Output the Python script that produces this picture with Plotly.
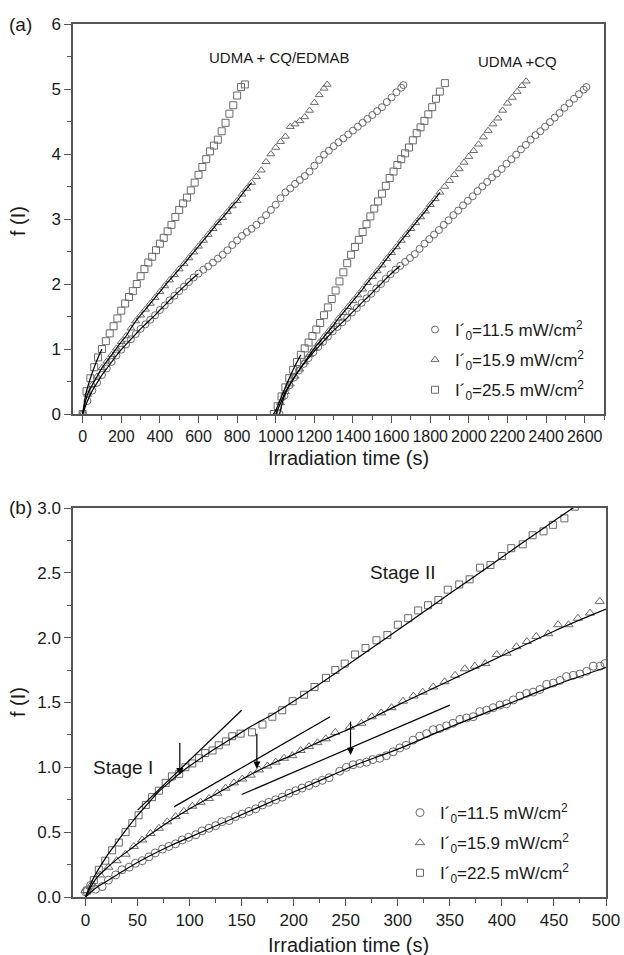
import plotly.graph_objects as go

# ---------------- Panel (a) data: UDMA + CQ/EDMAB ----------------
ed_sq_t = [0, 20, 40, 60, 80, 100, 120, 140, 160, 180, 200, 220, 240, 260, 280, 300, 320, 340, 360, 380,
           400, 420, 440, 460, 480, 500, 520, 540, 560, 580, 600, 620, 640, 660, 680, 700, 720, 740, 760,
           780, 800, 820, 840]
ed_sq_f = [0.0, 0.35, 0.55, 0.72, 0.87, 1.00, 1.12, 1.24, 1.35, 1.47, 1.59, 1.70, 1.80, 1.89, 2.00, 2.12,
           2.23, 2.33, 2.42, 2.52, 2.62, 2.71, 2.81, 2.91, 3.03, 3.14, 3.24, 3.33, 3.44, 3.56, 3.68, 3.80,
           3.92, 4.04, 4.13, 4.22, 4.35, 4.48, 4.62, 4.75, 4.90, 5.03, 5.07]

ed_tr_t = [0, 25, 50, 75, 100, 125, 150, 175, 200, 225, 250, 275, 300, 325, 350, 375, 400, 425, 450, 475,
           500, 525, 550, 575, 600, 625, 650, 675, 700, 725, 750, 775, 800, 825, 850, 875, 900, 925, 950,
           975, 1000, 1025, 1050, 1075, 1100, 1125, 1150, 1175, 1200, 1225, 1250, 1266]
ed_tr_f = [0.0, 0.30, 0.45, 0.58, 0.71, 0.81, 0.91, 1.01, 1.11, 1.20, 1.32, 1.43, 1.52, 1.61, 1.70, 1.79,
           1.88, 1.97, 2.06, 2.14, 2.23, 2.31, 2.40, 2.49, 2.58, 2.67, 2.76, 2.85, 2.94, 3.02, 3.11, 3.20,
           3.28, 3.38, 3.47, 3.56, 3.65, 3.75, 3.88, 4.00, 4.10, 4.19, 4.27, 4.42, 4.46, 4.51, 4.57, 4.67,
           4.79, 4.91, 5.01, 5.07]

ed_ci_t = [0, 25, 50, 75, 100, 125, 150, 175, 200, 225, 250, 275, 300, 325, 350, 375, 400, 425, 450, 475,
           500, 525, 550, 575, 600, 625, 650, 675, 700, 725, 750, 775, 800, 825, 850, 875, 900, 925, 950,
           975, 1000, 1025, 1050, 1075, 1100, 1125, 1150, 1175, 1200, 1225, 1250, 1275, 1300, 1325, 1350,
           1375, 1400, 1425, 1450, 1475, 1500, 1525, 1550, 1575, 1600, 1625, 1650, 1661]
ed_ci_f = [0.0, 0.20, 0.36, 0.48, 0.60, 0.70, 0.80, 0.90, 0.99, 1.07, 1.15, 1.23, 1.31, 1.38, 1.45, 1.52,
           1.60, 1.67, 1.75, 1.82, 1.89, 1.96, 2.03, 2.10, 2.16, 2.22, 2.27, 2.33, 2.39, 2.45, 2.52, 2.60,
           2.67, 2.74, 2.80, 2.85, 2.91, 2.98, 3.06, 3.14, 3.22, 3.32, 3.41, 3.47, 3.54, 3.60, 3.66, 3.73,
           3.82, 3.91, 3.99, 4.05, 4.12, 4.18, 4.24, 4.30, 4.36, 4.42, 4.48, 4.54, 4.60, 4.66, 4.72, 4.80,
           4.87, 4.95, 5.02, 5.06]

# ---------------- Panel (a) data: UDMA + CQ ----------------
cq_sq_t = [990, 1010, 1030, 1050, 1070, 1090, 1110, 1130, 1150, 1170, 1190, 1210, 1230, 1250, 1270, 1290,
           1310, 1330, 1350, 1370, 1390, 1410, 1430, 1450, 1470, 1490, 1510, 1530, 1550, 1570, 1590, 1610,
           1630, 1650, 1670, 1690, 1710, 1730, 1750, 1770, 1790, 1810, 1830, 1850, 1876]
cq_sq_f = [0.0, 0.12, 0.27, 0.41, 0.55, 0.68, 0.80, 0.91, 1.01, 1.10, 1.20, 1.30, 1.40, 1.52, 1.64, 1.77,
           1.90, 2.04, 2.18, 2.32, 2.45, 2.57, 2.68, 2.80, 2.92, 3.04, 3.16, 3.27, 3.39, 3.51, 3.63, 3.73,
           3.83, 3.92, 4.01, 4.10, 4.21, 4.32, 4.41, 4.51, 4.61, 4.72, 4.85, 4.96, 5.09]

cq_tr_t = [1000, 1025, 1050, 1075, 1100, 1125, 1150, 1175, 1200, 1225, 1250, 1275, 1300, 1325, 1350, 1375,
           1400, 1425, 1450, 1475, 1500, 1525, 1550, 1575, 1600, 1625, 1650, 1675, 1700, 1725, 1750, 1775,
           1800, 1825, 1850, 1875, 1900, 1925, 1950, 1975, 2000, 2025, 2050, 2075, 2100, 2125, 2150, 2175,
           2200, 2225, 2250, 2275, 2297]
cq_tr_f = [0.0, 0.17, 0.34, 0.46, 0.58, 0.69, 0.80, 0.91, 1.01, 1.10, 1.19, 1.28, 1.37, 1.47, 1.56, 1.65,
           1.74, 1.83, 1.92, 2.02, 2.11, 2.20, 2.29, 2.39, 2.48, 2.57, 2.67, 2.76, 2.85, 2.94, 3.03, 3.12,
           3.22, 3.31, 3.41, 3.50, 3.59, 3.68, 3.77, 3.87, 3.96, 4.05, 4.15, 4.26, 4.36, 4.46, 4.55, 4.67,
           4.78, 4.87, 4.96, 5.05, 5.12]

cq_ci_t = [1020, 1045, 1070, 1095, 1120, 1145, 1170, 1195, 1220, 1245, 1270, 1295, 1320, 1345, 1370, 1395,
           1420, 1445, 1470, 1495, 1520, 1545, 1570, 1595, 1620, 1645, 1670, 1695, 1720, 1745, 1770, 1795,
           1820, 1845, 1870, 1895, 1920, 1945, 1970, 1995, 2020, 2045, 2070, 2095, 2120, 2145, 2170, 2195,
           2220, 2245, 2270, 2295, 2320, 2345, 2370, 2395, 2420, 2445, 2470, 2495, 2520, 2545, 2570, 2595,
           2609]
cq_ci_f = [0.0, 0.28, 0.44, 0.56, 0.67, 0.77, 0.86, 0.95, 1.03, 1.11, 1.19, 1.27, 1.34, 1.41, 1.48, 1.56,
           1.63, 1.71, 1.78, 1.85, 1.93, 2.00, 2.08, 2.15, 2.22, 2.28, 2.34, 2.40, 2.46, 2.54, 2.62, 2.69,
           2.76, 2.83, 2.91, 2.98, 3.06, 3.13, 3.21, 3.28, 3.35, 3.43, 3.50, 3.57, 3.64, 3.70, 3.77, 3.85,
           3.92, 3.99, 4.07, 4.14, 4.22, 4.29, 4.35, 4.42, 4.49, 4.56, 4.63, 4.71, 4.78, 4.85, 4.92, 4.99,
           5.03]

# ---------------- Panel (b) data ----------------
b_sq_t = [1.6, 8, 12.8, 19, 25.6, 32, 38.5, 45, 51, 58, 64, 70.5, 77, 83, 90, 96, 102.6, 109, 115, 122,
          128, 135, 141, 149, 160, 170, 179.5, 189, 199, 210, 220, 231, 240, 249, 259, 269, 279.5, 290,
          300, 310, 319.6, 329, 339, 348, 359, 369, 379, 389, 400, 409, 420, 429.5, 440, 449, 460, 470]
b_sq_f = [0.05, 0.13, 0.21, 0.28, 0.36, 0.42, 0.50, 0.57, 0.63, 0.71, 0.77, 0.82, 0.88, 0.93, 0.95, 1.00,
          1.03, 1.07, 1.11, 1.13, 1.17, 1.20, 1.24, 1.26, 1.27, 1.33, 1.39, 1.44, 1.51, 1.56, 1.62, 1.69,
          1.75, 1.80, 1.87, 1.92, 1.98, 2.02, 2.10, 2.15, 2.21, 2.25, 2.29, 2.37, 2.41, 2.45, 2.54, 2.56,
          2.63, 2.69, 2.72, 2.79, 2.82, 2.87, 2.92, 3.01]

b_tr_t = [0, 6.4, 14, 22, 30, 38.5, 46.5, 54.5, 62.5, 70.5, 78.5, 86.5, 94.5, 102.6, 110.6, 118.6, 126.6,
          134.6, 142.6, 150.6, 158.7, 166.7, 174.7, 182.7, 190.7, 198.7, 206.7, 214.7, 222.8, 230.8, 240,
          254, 265, 275, 284, 294, 305, 315, 324, 334, 345, 355, 364.4, 374, 384, 395, 404.5, 414, 424,
          433, 444.5, 454, 464, 473, 484.6, 494]
b_tr_f = [0.05, 0.10, 0.17, 0.23, 0.28, 0.33, 0.39, 0.44, 0.49, 0.53, 0.58, 0.62, 0.66, 0.70, 0.73, 0.76,
          0.80, 0.84, 0.88, 0.91, 0.94, 0.98, 1.01, 1.04, 1.07, 1.09, 1.13, 1.16, 1.19, 1.22, 1.27,
          1.31, 1.34, 1.39, 1.42, 1.46, 1.51, 1.55, 1.58, 1.62, 1.66, 1.71, 1.76, 1.78, 1.80, 1.87, 1.88,
          1.93, 1.97, 2.01, 2.03, 2.10, 2.10, 2.15, 2.19, 2.28]

b_ci_t = [0, 5, 9.6, 16, 22, 29, 35, 42, 48, 54.5, 61, 67, 74, 80, 86.5, 93, 99, 106, 112, 118.6, 125,
          131, 138, 144, 150.6, 157, 163.5, 170, 176, 182.7, 189, 195.5, 202, 208, 214.7, 221, 227.5, 234,
          244.2, 250.6, 257, 263.5, 270, 276, 282.7, 289, 295.5, 302, 308, 314.7, 321, 327.6, 334, 340.4,
          346.8, 353, 359.6, 366, 372.4, 378.8, 385.3, 391.7, 398, 404.5, 411, 417.3, 423.7, 430, 436.5,
          443, 449.4, 455.8, 462, 468.6, 475, 481.4, 487.8, 494.2, 499]
b_ci_f = [0.04, 0.09, 0.06, 0.08, 0.13, 0.17, 0.21, 0.23, 0.26, 0.28, 0.31, 0.34, 0.37, 0.39, 0.41, 0.44,
          0.46, 0.48, 0.51, 0.53, 0.55, 0.58, 0.59, 0.62, 0.64, 0.66, 0.68, 0.71, 0.73, 0.75, 0.77, 0.80,
          0.82, 0.84, 0.86, 0.88, 0.90, 0.92, 0.97, 1.00, 1.02, 1.03, 1.04, 1.06, 1.07, 1.09, 1.12, 1.15,
          1.17, 1.21, 1.24, 1.26, 1.29, 1.30, 1.32, 1.34, 1.37, 1.38, 1.39, 1.43, 1.44, 1.46, 1.48, 1.49,
          1.52, 1.55, 1.57, 1.58, 1.60, 1.64, 1.65, 1.67, 1.70, 1.71, 1.72, 1.74, 1.78, 1.78, 1.80]

# Fitted curves (panel b)
fit_sq_t = [0, 5, 10, 20, 30, 40, 50, 60, 70, 80, 90, 100, 120, 140, 160, 180, 200, 250, 300, 350, 400, 450, 472]
fit_sq_f = [0.0, 0.10, 0.18, 0.31, 0.42, 0.53, 0.63, 0.72, 0.81, 0.88, 0.95, 1.01, 1.12, 1.22, 1.32, 1.41,
            1.51, 1.78, 2.06, 2.34, 2.62, 2.90, 3.02]
fit_tr_t = [0, 10, 20, 30, 40, 50, 60, 80, 100, 120, 140, 160, 180, 200, 220, 240, 260, 300, 350, 400, 450, 500]
fit_tr_f = [0.0, 0.14, 0.22, 0.29, 0.35, 0.41, 0.47, 0.58, 0.68, 0.77, 0.86, 0.95, 1.03, 1.10, 1.18, 1.25,
            1.32, 1.48, 1.67, 1.86, 2.05, 2.22]
fit_ci_t = [0, 10, 20, 30, 40, 60, 80, 100, 120, 140, 160, 180, 200, 220, 240, 260, 280, 300, 350, 400, 450, 500]
fit_ci_f = [0.0, 0.07, 0.12, 0.17, 0.22, 0.31, 0.39, 0.46, 0.53, 0.60, 0.67, 0.74, 0.81, 0.88, 0.95, 1.02,
            1.08, 1.14, 1.31, 1.47, 1.63, 1.77]

# Tangent segments (panel b)
tan_sq_t, tan_sq_f = [50, 150], [0.67, 1.44]
tan_tr_t, tan_tr_f = [85, 235], [0.695, 1.39]
tan_ci_t, tan_ci_f = [150, 350], [0.79, 1.48]

# Arrows (panel b): x, tail y, head y
arrow_t = [90.6, 164.6, 254.6]
arrow_top = [1.20, 1.27, 1.365]
arrow_tip = [0.94, 0.99, 1.095]

legend_a = ["I´<sub>0</sub>=11.5 mW/cm<sup>2</sup>", "I´<sub>0</sub>=15.9 mW/cm<sup>2</sup>",
            "I´<sub>0</sub>=25.5 mW/cm<sup>2</sup>"]
legend_b = ["I´<sub>0</sub>=11.5 mW/cm<sup>2</sup>", "I´<sub>0</sub>=15.9 mW/cm<sup>2</sup>",
            "I´<sub>0</sub>=22.5 mW/cm<sup>2</sup>"]

FONT = "Arial, Liberation Sans, sans-serif"
MCOL = "#6a6a6a"
AXCOL = "#555555"
TXT = "#1a1a1a"

fig = go.Figure()


def mk(symbol, size=7):
    return dict(symbol=symbol, size=size, color=MCOL, line=dict(color=MCOL, width=1))


# Panel (a) markers
for (t, f, sym, name, show, grp) in [
    (ed_ci_t, ed_ci_f, "circle-open", legend_a[0], True, "a1"),
    (ed_tr_t, ed_tr_f, "triangle-up-open", legend_a[1], True, "a2"),
    (ed_sq_t, ed_sq_f, "square-open", legend_a[2], True, "a3"),
    (cq_ci_t, cq_ci_f, "circle-open", legend_a[0], False, "a1"),
    (cq_tr_t, cq_tr_f, "triangle-up-open", legend_a[1], False, "a2"),
    (cq_sq_t, cq_sq_f, "square-open", legend_a[2], False, "a3"),
]:
    fig.add_trace(go.Scatter(x=t, y=f, mode="markers", marker=mk(sym, 7), name=name,
                             showlegend=show, legend="legend", legendgroup=grp,
                             xaxis="x", yaxis="y"))

# Panel (a) fit lines (lower parts, as visible)
for (t, f, n) in [(ed_tr_t, ed_tr_f, 36), (ed_ci_t, ed_ci_f, 25), (ed_sq_t, ed_sq_f, 6),
                  (cq_tr_t, cq_tr_f, 35), (cq_ci_t, cq_ci_f, 26), (cq_sq_t, cq_sq_f, 8)]:
    fig.add_trace(go.Scatter(x=t[:n], y=f[:n], mode="lines", line=dict(color="black", width=1.2),
                             showlegend=False, xaxis="x", yaxis="y", line_shape="spline"))

# Panel (b) markers
for (t, f, sym, name, sz, grp) in [
    (b_ci_t, b_ci_f, "circle-open", legend_b[0], 8, "b1"),
    (b_tr_t, b_tr_f, "triangle-up-open", legend_b[1], 8, "b2"),
    (b_sq_t, b_sq_f, "square-open", legend_b[2], 7, "b3"),
]:
    fig.add_trace(go.Scatter(x=t, y=f, mode="markers", marker=mk(sym, sz), name=name,
                             showlegend=True, legend="legend2", legendgroup=grp,
                             xaxis="x2", yaxis="y2"))

# Panel (b) fit curves and tangents
for (t, f) in [(fit_sq_t, fit_sq_f), (fit_tr_t, fit_tr_f), (fit_ci_t, fit_ci_f),
               (tan_sq_t, tan_sq_f), (tan_tr_t, tan_tr_f), (tan_ci_t, tan_ci_f)]:
    fig.add_trace(go.Scatter(x=t, y=f, mode="lines", line=dict(color="black", width=1.2),
                             line_shape="spline", showlegend=False, xaxis="x2", yaxis="y2"))

annotations = []
for xt, yt, yh in zip(arrow_t, arrow_top, arrow_tip):
    annotations.append(dict(x=xt, y=yh, ax=xt, ay=yt, xref="x2", yref="y2", axref="x2", ayref="y2",
                            showarrow=True, arrowhead=2, arrowsize=1.2, arrowwidth=1.2,
                            arrowcolor="black", text=""))


def ptxt(x, y, text, size, angle=0):
    return dict(x=x / 624, y=1 - y / 955, xref="paper", yref="paper", text=text, showarrow=False,
                xanchor="center", yanchor="middle", textangle=angle,
                font=dict(size=size, color=TXT, family=FONT))


annotations += [
    dict(x=1018, y=5.48, xref="x", yref="y", text="UDMA + CQ/EDMAB", showarrow=False,
         xanchor="center", font=dict(size=15, color=TXT, family=FONT)),
    dict(x=2253, y=5.42, xref="x", yref="y", text="UDMA +CQ", showarrow=False,
         xanchor="center", font=dict(size=15, color=TXT, family=FONT)),
    dict(x=36, y=0.995, xref="x2", yref="y2", text="Stage I", showarrow=False,
         xanchor="center", font=dict(size=19, color=TXT, family=FONT)),
    dict(x=305, y=2.5, xref="x2", yref="y2", text="Stage II", showarrow=False,
         xanchor="center", font=dict(size=19, color=TXT, family=FONT)),
    ptxt(20, 25, "(a)", 19),
    ptxt(20, 508, "(b)", 19),
    ptxt(348, 458, "Irradiation time (s)", 20),
    ptxt(348, 945, "Irradiation time (s)", 20),
    ptxt(18, 221, "f (I)", 20, -90),
    ptxt(18, 702, "f (I)", 20, -90),
]


def ax(rng, dtick, mdtick, domain, anchor, fsize=17):
    return dict(range=rng, dtick=dtick, tick0=0, domain=domain, anchor=anchor, showgrid=False,
                zeroline=False, showline=True, linecolor=AXCOL, linewidth=1.5, mirror=True,
                ticks="outside", ticklen=7, tickwidth=1.3, tickcolor=AXCOL, tickangle=0,
                tickfont=dict(size=fsize, color=TXT, family=FONT),
                minor=dict(ticks="outside", ticklen=4, dtick=mdtick, tick0=0, tickcolor=AXCOL,
                           tickwidth=1.3, showgrid=False),
                automargin=False)


fig.update_layout(
    width=624, height=955,
    margin=dict(l=0, r=0, t=0, b=0),
    paper_bgcolor="white", plot_bgcolor="white",
    font=dict(family=FONT, color=TXT),
    xaxis=ax([-50, 2700], 200, 100, [73 / 624, 604 / 624], "y", 16),
    yaxis=ax([0, 6], 1, 0.5, [1 - 414 / 955, 1 - 24 / 955], "x"),
    xaxis2=ax([-12, 500], 50, 25, [73 / 624, 606 / 624], "y2"),
    yaxis2=ax([0, 3], 0.5, 0.25, [1 - 897 / 955, 1 - 508 / 955], "x2"),
    legend=dict(x=415 / 624, y=1 - 312 / 955, xanchor="left", yanchor="top", bgcolor="rgba(0,0,0,0)",
                font=dict(size=17, color=TXT, family=FONT), itemsizing="trace", tracegroupgap=5,
                traceorder="grouped"),
    legend2=dict(x=400 / 624, y=1 - 795 / 955, xanchor="left", yanchor="top", bgcolor="rgba(0,0,0,0)",
                 font=dict(size=17, color=TXT, family=FONT), itemsizing="trace", tracegroupgap=5,
                 traceorder="grouped"),
    annotations=annotations,
)
fig.update_layout(yaxis2=dict(tickformat=".1f"))

fig.write_html("out.html", config={"displayModeBar": False},
               post_script="document.body.style.margin='0px';document.body.style.overflow='hidden';")
